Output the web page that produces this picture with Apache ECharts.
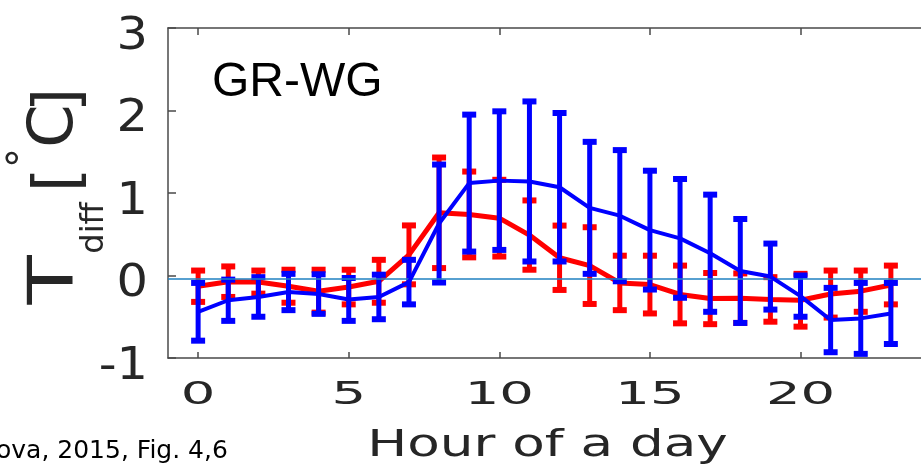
<!DOCTYPE html>
<html><head><meta charset="utf-8">
<script src="https://cdn.jsdelivr.net/npm/echarts@6/dist/echarts.min.js"></script>
<style>html,body{margin:0;padding:0;background:#fff}#c{width:921px;height:468px}</style>
</head><body><div id="c"></div>
<script>
// ---- data ----
const hours = [0,1,2,3,4,5,6,7,8,9,10,11,12,13,14,15,16,17,18,19,20,21,22,23];
const redMean  = [-0.13,-0.075,-0.08,-0.13,-0.19,-0.14,-0.07,0.25,0.76,0.74,0.695,0.49,0.215,0.12,-0.09,-0.11,-0.23,-0.28,-0.275,-0.29,-0.30,-0.225,-0.19,-0.115];
const redErr   = [0.19,0.185,0.14,0.20,0.26,0.21,0.26,0.357,0.67,0.52,0.465,0.42,0.39,0.465,0.33,0.35,0.35,0.31,0.30,0.27,0.32,0.285,0.25,0.235];
const blueMean = [-0.44,-0.30,-0.26,-0.20,-0.225,-0.29,-0.26,-0.08,0.63,1.12,1.15,1.14,1.07,0.82,0.725,0.55,0.45,0.27,0.055,-0.013,-0.25,-0.54,-0.52,-0.46];
const blueErr  = [0.35,0.25,0.24,0.22,0.24,0.26,0.27,0.27,0.715,0.83,0.84,0.97,0.90,0.80,0.795,0.72,0.72,0.71,0.63,0.40,0.25,0.39,0.43,0.37];
const xTicks = [0,5,10,15,20];
const yTicks = [-1,0,1,2,3];
const zeroLineValue = -0.045;
const panelLabel = 'GR-WG';
const xTitle = 'Hour of a day';
const creditText = 'ova, 2015, Fig. 4,6';

// ---- build ----
function errData(mean, err){ return hours.map((h,i)=>[h, mean[i]-err[i], mean[i]+err[i]]); }
function lineData(mean){ return hours.map((h,i)=>[h, mean[i]]); }
function errRender(color){
  return function(params, api){
    const x = api.value(0);
    const lo = api.coord([x, api.value(1)]);
    const hi = api.coord([x, api.value(2)]);
    const hw = 7;
    return {type:'group', children:[
      {type:'line', shape:{x1:lo[0], y1:lo[1], x2:hi[0], y2:hi[1]}, style:{stroke:color, lineWidth:5}},
      {type:'line', shape:{x1:lo[0]-hw, y1:lo[1], x2:lo[0]+hw, y2:lo[1]}, style:{stroke:color, lineWidth:6}},
      {type:'line', shape:{x1:hi[0]-hw, y1:hi[1], x2:hi[0]+hw, y2:hi[1]}, style:{stroke:color, lineWidth:6}}
    ]};
  };
}
const axisColor = '#4a4a4a';
const txtColor = '#262626';
const F = '"DejaVu Sans", sans-serif';

const chart = echarts.init(document.getElementById('c'), null, {renderer:'canvas'});
const rot = Math.PI/2;
chart.setOption({
  animation:false,
  backgroundColor:'#fff',
  grid:{left:168, right:-7, top:28, bottom:110, containLabel:false},
  xAxis:[{
    type:'value', min:-1, max:24, position:'bottom',
    axisLine:{show:true, onZero:false, lineStyle:{color:axisColor, width:1.5}},
    axisTick:{show:true, inside:true, length:6, customValues:xTicks, lineStyle:{color:axisColor, width:1.5}},
    axisLabel:{show:false},
    splitLine:{show:false}
  },{
    type:'value', min:-1, max:24, position:'top',
    axisLine:{show:true, onZero:false, lineStyle:{color:axisColor, width:1.5}},
    axisTick:{show:true, inside:true, length:7, customValues:xTicks, lineStyle:{color:axisColor, width:1.5}},
    axisLabel:{show:false}, splitLine:{show:false}
  }],
  yAxis:[{
    type:'value', min:-1, max:3, interval:1,
    axisLine:{show:true, onZero:false, lineStyle:{color:axisColor, width:1.5}},
    axisTick:{show:true, inside:true, length:8, lineStyle:{color:axisColor, width:1.5}},
    axisLabel:{show:false},
    splitLine:{show:false}
  }],
  series:[
    {type:'custom', name:'red err', renderItem:errRender('#ff0000'), data:errData(redMean, redErr), encode:{x:0, y:[1,2]}, z:2, silent:true},
    {type:'line', name:'red', data:lineData(redMean), showSymbol:false, symbol:'none', lineStyle:{color:'#ff0000', width:5}, z:3, silent:true},
    {type:'custom', name:'blue err', renderItem:errRender('#0000ff'), data:errData(blueMean, blueErr), encode:{x:0, y:[1,2]}, z:4, silent:true},
    {type:'line', name:'blue', data:lineData(blueMean), showSymbol:false, symbol:'none', lineStyle:{color:'#0000ff', width:4}, z:5, silent:true},
    {type:'line', name:'zero', data:[], z:6, silent:true,
     markLine:{silent:true, symbol:'none', label:{show:false}, lineStyle:{color:'#1f80c0', width:1.5, type:'solid'}, data:[{yAxis:zeroLineValue}]}}
  ]
});

// tick labels and axis titles as stretched text, positioned through the axis scales
const xLabelY = 396;
const xTickTexts = xTicks.map(v => ({
  type:'text', x: chart.convertToPixel({xAxisIndex:0}, v), y: xLabelY, scaleX:1.7,
  style:{text:String(v), fontSize:32, fontFamily:F, fill:txtColor, align:'center', verticalAlign:'middle'}
}));
const yTickTexts = yTicks.map(v => ({
  type:'text', x:148, y: chart.convertToPixel({yAxisIndex:0}, v) + 9, scaleX:1.1,
  style:{text:String(v), fontSize:45, fontFamily:F, fill:txtColor, align:'right', verticalAlign:'middle'}
}));
const midX = chart.convertToPixel({xAxisIndex:0}, 11.6);
chart.setOption({graphic: xTickTexts.concat(yTickTexts).concat([
  {type:'text', x:midX, y:446, scaleX:1.4, style:{text:xTitle, fontSize:38, fontFamily:F, fill:txtColor, align:'center', verticalAlign:'middle'}},
  {type:'text', x:212, y:83, z:10, style:{text:panelLabel, fontSize:48, fontFamily:'"Liberation Sans", Arial, sans-serif', fill:'#000', align:'left', verticalAlign:'middle'}},
  {type:'text', x:-4, y:451, style:{text:creditText, fontSize:25, fontFamily:F, fill:'#000', align:'left', verticalAlign:'middle'}},
  {type:'text', x:56, y:280, rotation:rot, scaleX:1.3, style:{text:'T', fontSize:62, fontFamily:F, fill:txtColor, align:'center', verticalAlign:'middle'}},
  {type:'text', x:95, y:228, rotation:rot, style:{text:'diff', fontSize:32, fontFamily:F, fill:txtColor, align:'center', verticalAlign:'middle'}},
  {type:'text', x:61, y:180, rotation:rot, style:{text:'[', fontSize:62, fontFamily:F, fill:txtColor, align:'center', verticalAlign:'middle'}},
  {type:'text', x:26, y:158, rotation:rot, style:{text:'°', fontSize:40, fontFamily:F, fill:txtColor, align:'center', verticalAlign:'middle'}},
  {type:'text', x:56, y:126, rotation:rot, style:{text:'C', fontSize:62, fontFamily:F, fill:txtColor, align:'center', verticalAlign:'middle'}},
  {type:'text', x:61, y:100, rotation:rot, style:{text:']', fontSize:62, fontFamily:F, fill:txtColor, align:'center', verticalAlign:'middle'}}
])});
</script></body></html>
